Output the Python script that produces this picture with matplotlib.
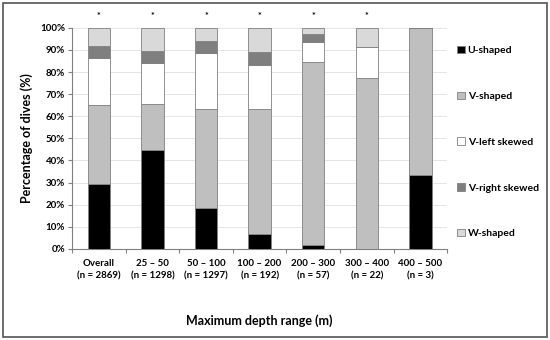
import matplotlib.pyplot as plt
import numpy as np

# categories and n-values
categories = ['Overall', '25 – 50', '50 – 100', '100 – 200', '200 – 300', '300 – 400', '400 – 500']
n_values = [2869, 1298, 1297, 192, 57, 22, 3]

# percentage of dives in each shape class
u_shaped = [29.4, 44.6, 18.6, 6.8, 1.8, 0.0, 33.5]
v_shaped = [35.8, 21.0, 44.9, 56.7, 82.7, 77.4, 66.5]
v_left = [21.1, 18.6, 25.2, 19.5, 8.9, 13.8, 0.0]
v_right = [5.6, 5.2, 5.4, 6.3, 3.7, 0.0, 0.0]
w_shaped = [8.1, 10.6, 5.9, 10.7, 2.9, 8.8, 0.0]
significant = [True, True, True, True, True, True, False]

series = [u_shaped, v_shaped, v_left, v_right, w_shaped]
names = ['U-shaped', 'V-shaped', 'V-left skewed', 'V-right skewed', 'W-shaped']
colors = ['#000000', '#bfbfbf', '#ffffff', '#7f7f7f', '#d9d9d9']

plt.rcParams['font.family'] = ['Lato', 'DejaVu Sans']
plt.rcParams['font.weight'] = 'bold'

fig = plt.figure(figsize=(5.5, 3.4), dpi=100)
ax = fig.add_axes([0.131, 0.268, 0.682, 0.650])

x = np.arange(len(categories))
bottom = np.zeros(len(categories))
handles = []
for vals, name, col in zip(series, names, colors):
    b = ax.bar(x, vals, width=0.42, bottom=bottom, color=col,
               edgecolor='#808080', linewidth=0.6, label=name, zorder=3)
    handles.append(b)
    bottom += np.array(vals)

for xi, sig in zip(x, significant):
    if sig:
        ax.text(xi, 105, '*', ha='center', va='center', fontsize=6.5)

ax.set_xlim(-0.5, len(categories) - 0.5)
ax.set_ylim(0, 100)
ax.set_yticks(np.arange(0, 101, 10))
ax.set_yticklabels([f'{v}%' for v in range(0, 101, 10)], fontsize=7, fontweight='bold')
ax.set_xticks(np.arange(-0.5, len(categories), 1), minor=False)
ax.set_xticklabels([])
ax.set_xticks(x, minor=True)
ax.set_xticklabels([f'{c}\n(n = {n})' for c, n in zip(categories, n_values)],
                   minor=True, fontsize=7, fontweight='bold', linespacing=1.6)
ax.tick_params(axis='x', which='minor', length=0, pad=7)
ax.tick_params(axis='x', which='major', length=3, color='#808080')
ax.tick_params(axis='y', length=3, color='#808080', pad=2)
ax.yaxis.grid(True, color='#e0e0e0', linewidth=0.6, zorder=0)
for side in ['top', 'right']:
    ax.spines[side].set_visible(False)
ax.spines['left'].set_color('#808080')
ax.spines['bottom'].set_color('#808080')

ax.set_ylabel('Percentage of dives (%)', fontsize=9, fontweight='bold', labelpad=5)
fig.text(0.472, 0.045, 'Maximum depth range (m)', ha='center', fontsize=9, fontweight='bold')

leg = ax.legend(handles=handles, loc='upper left', bbox_to_anchor=(1.016, 0.937),
                borderaxespad=0, frameon=False, fontsize=7.5, labelspacing=3.5,
                handlelength=0.7, handleheight=0.7, handletextpad=0.3)
for t in leg.get_texts():
    t.set_fontweight('bold')

# outer frame
fig.patches.append(plt.Rectangle((0.005, 0.008), 0.99, 0.984, transform=fig.transFigure,
                                 fill=False, edgecolor='#555555', linewidth=1.2))

fig.savefig('out.png', dpi=100)
